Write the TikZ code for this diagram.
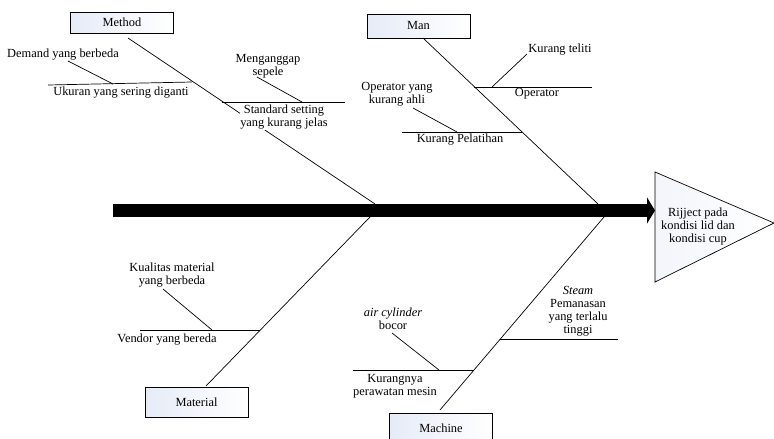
\documentclass[tikz,border=0pt]{standalone}
\usepackage{fontspec}
\setmainfont{Liberation Serif}
\usetikzlibrary{arrows.meta}
\definecolor{boxblue}{RGB}{230,235,247}

\begin{document}
\begin{tikzpicture}[x=1pt, y=-1pt,
    catbox/.style={draw, line width=0.8pt, left color=boxblue, right color=white,
      minimum width=103pt, inner sep=0pt, font=\fontsize{12.4}{13}\selectfont},
    bone/.style={line width=0.7pt},
    cause/.style={align=center, inner sep=0.5pt, font=\fontsize{12.4}{13}\selectfont}]
  \useasboundingbox (0,0) rectangle (774,439);

  % vertices
  \coordinate (tail) at (113,210.5);
  \coordinate (head) at (655,210.5);
  \coordinate (mt) at (128,38);   \coordinate (mb) at (375,204);
  \coordinate (nt) at (423,38);   \coordinate (nb) at (598,204);
  \coordinate (lt) at (206,386);  \coordinate (lb) at (370,217);
  \coordinate (ct) at (440,410);  \coordinate (cb) at (604,217);
  % method causes
  \coordinate (uk1) at (48,85);   \coordinate (uk2) at (192,82);
  \coordinate (de1) at (68,61);   \coordinate (de2) at (113,84);
  \coordinate (st1) at (222,102); \coordinate (st2) at (345,102);
  \coordinate (me1) at (257,77);  \coordinate (me2) at (302,102);
  % man causes
  \coordinate (op1) at (474,87);  \coordinate (op2) at (592,87);
  \coordinate (kt1) at (492,87);  \coordinate (kt2) at (527,54);
  \coordinate (kp1) at (402,132); \coordinate (kp2) at (522,132);
  \coordinate (oa1) at (413,108); \coordinate (oa2) at (457,132);
  % material causes
  \coordinate (ve1) at (140,330); \coordinate (ve2) at (260,330);
  \coordinate (ku1) at (163,289); \coordinate (ku2) at (212,330);
  % machine causes
  \coordinate (kr1) at (353,370); \coordinate (kr2) at (474,370);
  \coordinate (ai1) at (392,333); \coordinate (ai2) at (439,370);
  \coordinate (sm1) at (500,339); \coordinate (sm2) at (618,339);

  % effect
  \shade[draw, line width=0.7pt, left color=boxblue!50, right color=white]
    (655,172) -- (774,223) -- (655,282) -- cycle;
  \node[cause] (effect) at (698,227) {Rijject pada\\kondisi lid dan\\kondisi cup};

  % spine
  \draw[line width=13pt, -{Triangle[length=8pt, width=26pt]}] (tail) -- (head);

  % categories
  \node[catbox, minimum height=21pt] (method) at (122,22.5) {Method};
  \node[catbox, minimum height=24pt] (man) at (418.5,26) {Man};
  \node[catbox, minimum height=30pt] (material) at (196.5,402) {Material};
  \node[catbox, minimum height=30pt] (machine) at (441,428) {Machine};

  % bones
  \draw[bone] (mt) -- (mb);
  \draw[bone] (nt) -- (nb);
  \draw[bone] (lt) -- (lb);
  \draw[bone] (ct) -- (cb);

  % labels
  \node[cause] (demand) at (63,55) {Demand yang berbeda};
  \node[cause] (ukuran) at (121,93) {Ukuran yang sering diganti};
  \node[cause] (anggap) at (268,66) {Menganggap\\sepele};
  \node[cause, fill=white] (standar) at (284,117) {Standard setting\\yang kurang jelas};
  \node[cause] (teliti) at (560,50) {Kurang teliti};
  \node[cause] (operator) at (537,94) {Operator};
  \node[cause] (ahli) at (397,94) {Operator yang\\kurang ahli};
  \node[cause] (latih) at (460,140) {Kurang Pelatihan};
  \node[cause] (kualitas) at (172,275) {Kualitas material\\yang berbeda};
  \node[cause] (vendor) at (167,340) {Vendor yang bereda};
  \node[cause] (cylinder) at (393,318.5) {\textit{air cylinder}\\bocor};
  \node[cause] (rawat) at (395,386) {Kurangnya\\perawatan mesin};
  \node[cause] (steam) at (578,311) {\textit{Steam}\\Pemanasan\\yang terlalu\\tinggi};

  % draw causes
  \draw[bone] (uk1) -- (uk2);
  \draw[bone] (de1) -- (de2);
  \draw[bone] (st1) -- (st2);
  \draw[bone] (me1) -- (me2);
  \draw[bone] (op1) -- (op2);
  \draw[bone] (kt1) -- (kt2);
  \draw[bone] (kp1) -- (kp2);
  \draw[bone] (oa1) -- (oa2);
  \draw[bone] (ve1) -- (ve2);
  \draw[bone] (ku1) -- (ku2);
  \draw[bone] (kr1) -- (kr2);
  \draw[bone] (ai1) -- (ai2);
  \draw[bone] (sm1) -- (sm2);
\end{tikzpicture}
\end{document}
